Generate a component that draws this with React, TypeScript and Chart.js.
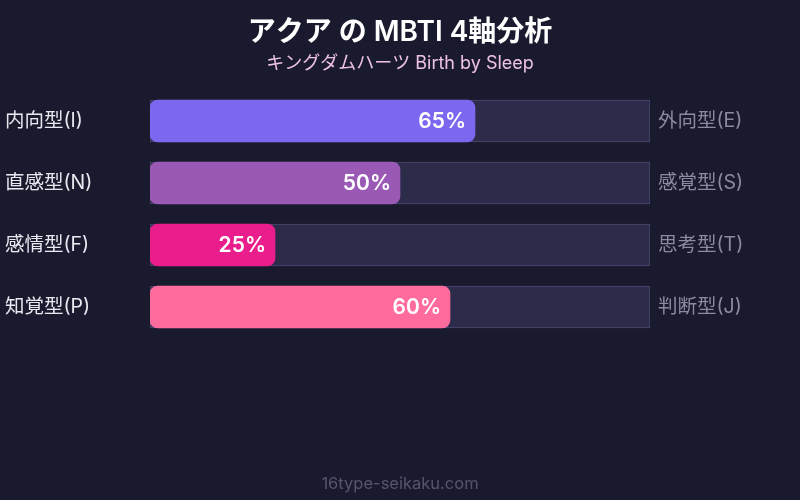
import React, { useEffect, useRef } from 'react';
import { Chart, registerables } from 'chart.js';

Chart.register(...registerables);

const leftLabels = ['内向型(I)', '直感型(N)', '感情型(F)', '知覚型(P)'];
const rightLabels = ['外向型(E)', '感覚型(S)', '思考型(T)', '判断型(J)'];
const scores = [65, 50, 25, 60];
const trackValues = [100, 100, 100, 100];
const barColors = ['#7B68EE', '#9B59B6', '#E91E8C', '#FF6B9D'];

const FONT = "Inter, 'Noto Sans CJK JP', sans-serif";

const textPlugin = {
  id: 'mbtiText',
  afterDatasetsDraw(chart: any) {
    const { ctx } = chart;
    const meta = chart.getDatasetMeta(0);
    ctx.save();
    ctx.fillStyle = '#ffffff';
    ctx.font = `600 21px ${FONT}`;
    ctx.textAlign = 'right';
    ctx.textBaseline = 'middle';
    meta.data.forEach((bar: any, i: number) => {
      ctx.fillText(`${scores[i]}%`, bar.x - 9, bar.y + 1);
    });
    ctx.restore();
  },
  afterDraw(chart: any) {
    const { ctx, width } = chart;
    ctx.save();
    ctx.textAlign = 'center';
    ctx.textBaseline = 'middle';
    ctx.fillStyle = '#ffffff';
    ctx.font = `600 28px ${FONT}`;
    ctx.fillText('アクア の MBTI 4軸分析', width / 2, 33);
    ctx.fillStyle = '#EEC2E2';
    ctx.font = `18px ${FONT}`;
    ctx.fillText('キングダムハーツ Birth by Sleep', width / 2, 64);
    ctx.fillStyle = '#55556F';
    ctx.font = `16.5px ${FONT}`;
    ctx.fillText('16type-seikaku.com', width / 2, 484);
    ctx.restore();
  },
};

const App: React.FC = () => {
  const chartRef = useRef<HTMLCanvasElement>(null);
  const chartInstance = useRef<Chart | null>(null);

  useEffect(() => {
    document.body.style.margin = '0';
    if (chartRef.current) {
      if (chartInstance.current) {
        chartInstance.current.destroy();
      }
      const ctx = chartRef.current.getContext('2d');
      if (ctx) {
        chartInstance.current = new Chart(ctx, {
          type: 'bar',
          data: {
            labels: leftLabels,
            datasets: [
              {
                label: 'score',
                data: scores,
                backgroundColor: barColors,
                borderRadius: 8,
                borderSkipped: false,
                barThickness: 42,
                grouped: false,
                order: 0,
                yAxisID: 'y',
              },
              {
                label: 'track',
                data: trackValues,
                backgroundColor: '#2D2B4A',
                borderColor: '#4A4870',
                borderWidth: 1,
                borderSkipped: false,
                barThickness: 42,
                grouped: false,
                order: 1,
                yAxisID: 'y',
              },
            ],
          },
          options: {
            indexAxis: 'y',
            animation: false,
            responsive: false,
            maintainAspectRatio: false,
            layout: { padding: { top: 90, bottom: 162, left: 5, right: 0 } },
            plugins: {
              legend: { display: false },
              title: { display: false },
              tooltip: { enabled: false },
            },
            scales: {
              x: { display: false, min: 0, max: 100 },
              y: {
                position: 'left',
                grid: { display: false },
                border: { display: false },
                afterFit: (scale: any) => {
                  scale.width = 145;
                },
                ticks: {
                  crossAlign: 'far',
                  padding: 5,
                  color: '#E8E8F0',
                  font: { family: FONT, size: 19.5 },
                },
              },
              y2: {
                position: 'right',
                type: 'category',
                labels: rightLabels,
                grid: { display: false },
                border: { display: false },
                afterFit: (scale: any) => {
                  scale.width = 150;
                },
                ticks: {
                  padding: 0,
                  color: '#8A8AA0',
                  font: { family: FONT, size: 19.5 },
                },
              },
            },
          },
          plugins: [textPlugin],
        });
      }
    }
    return () => {
      if (chartInstance.current) {
        chartInstance.current.destroy();
        chartInstance.current = null;
      }
    };
  }, []);

  return (
    <div style={{ width: 800, height: 500, background: '#1A1A2E' }}>
      <canvas ref={chartRef} width={800} height={500} />
    </div>
  );
};

export default App;
